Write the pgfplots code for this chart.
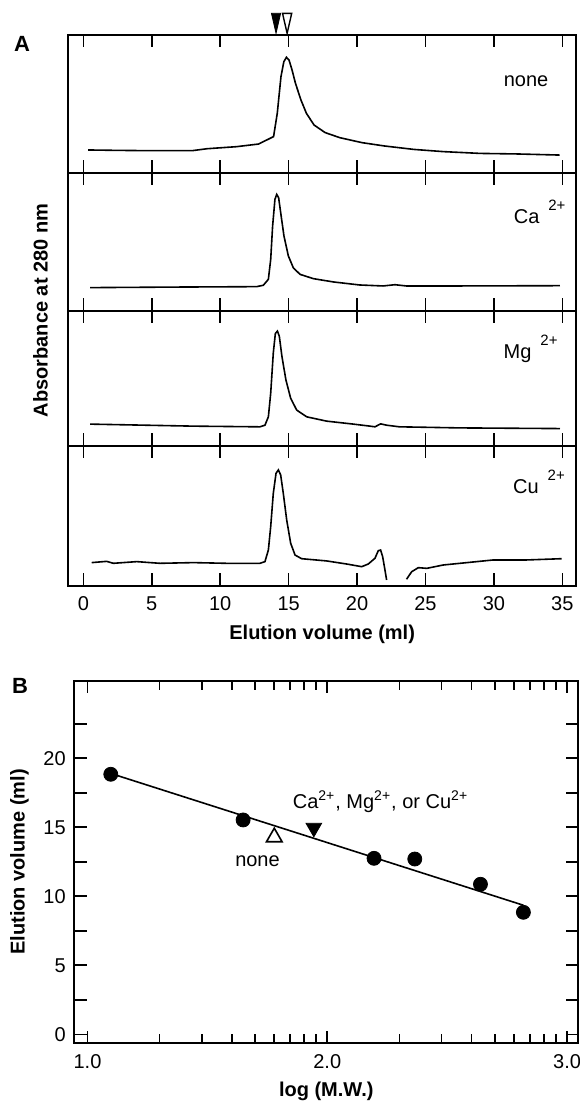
\documentclass[border=0pt]{standalone}
\usepackage{fontspec}
\setmainfont{Liberation Sans}
\usepackage{pgfplots}
\pgfplotsset{compat=1.18}

\pgfplotsset{
  base/.style={
    scale only axis, anchor=south west, clip=false,
    tick align=inside, major tick length=6.25pt, minor tick length=4.5pt,
    axis line style={line width=0.9pt},
    every tick/.style={black, line width=0.8pt},
    tick label style={font=\fontsize{10}{12}\selectfont},
    label style={font=\bfseries\fontsize{10}{12}\selectfont},
    /pgf/number format/assume math mode=true,
  },
  panelA/.style={
    base, width=253.85pt, xmin=-1.1, xmax=36.0, ymin=0, ymax=100,
    xtick={0,5,...,35}, ytick=\empty,
  },
  trace/.style={black, line width=0.8pt, no marks},
}
\tikzset{ion/.style={anchor=base west, font=\fontsize{10}{12}\selectfont}}
\newcommand{\ionsup}[1]{\hspace{4.5pt}\raisebox{6.3pt}{\fontsize{7.5}{8}\selectfont #1}}

\begin{document}
\begin{tikzpicture}
\useasboundingbox (0,0) rectangle (289.5pt,551.5pt);

% ---- panel A: none
\begin{axis}[panelA, at={(34.15pt,465.15pt)}, height=68.85pt, xticklabels={}]
\addplot[trace] coordinates {
 (0.35,16.5) (2.5,16.2) (4.72,16.0) (7.96,16.0) (9.04,17.4) (11.2,18.9) (12.8,20.8)
 (13.9,26.2) (14.17,43.1) (14.44,69.7) (14.65,80.6) (14.84,83.8) (15.03,81.8)
 (15.25,74.6) (15.5,64.9) (15.9,52.8) (16.3,43.1) (16.86,34.6) (17.67,29.1)
 (18.75,25.4) (20.37,21.8) (22.0,19.4) (24.15,16.9) (26.3,15.3) (29.0,14.0)
 (31.7,13.6) (34.8,12.8)
};
\addplot[only marks, mark=triangle*, mark size=3pt,
  mark options={xscale=0.885, yscale=-2.22, fill=black, draw=black}]
  coordinates {(14.08,110.9)};
\addplot[only marks, mark=triangle*, mark size=3pt,
  mark options={xscale=0.885, yscale=-2.22, fill=white, draw=black, line width=0.7pt}]
  coordinates {(14.89,110.9)};
\node[anchor=center, font=\fontsize{10}{12}\selectfont] at (axis cs:32.35,66.1) {none};
\end{axis}

% ---- panel A: Ca
\begin{axis}[panelA, at={(34.15pt,396pt)}, height=69.15pt, xticklabels={}]
\addplot[trace] coordinates {
 (0.49,16.9) (6.82,17.3) (12.66,17.6) (13.15,18.6) (13.52,22.9) (13.69,37.3)
 (13.83,61.4) (14.0,80.7) (14.13,84.3) (14.27,81.9) (14.42,71.1) (14.66,54.2)
 (14.98,39.8) (15.34,31.3) (15.83,26.5) (16.8,23.4) (18.27,21.0) (20.2,18.8)
 (21.9,18.1) (22.77,19.0) (23.6,18.1) (27.5,18.1) (34.83,18.3)
};
\node[ion] at (axis cs:30.94,63.4) {Ca\ionsup{2+}};
\end{axis}

% ---- panel A: Mg
\begin{axis}[panelA, at={(34.15pt,328.5pt)}, height=67.5pt, xticklabels={}]
\addplot[trace] coordinates {
 (0.49,16.2) (8.04,14.7) (12.9,14.2) (13.27,15.4) (13.52,21.6) (13.69,39.1)
 (13.88,68.9) (14.03,83.3) (14.18,85.1) (14.32,81.3) (14.51,66.4) (14.8,49.0)
 (15.15,35.3) (15.59,26.6) (16.32,21.6) (17.78,18.4) (19.73,16.2) (20.95,14.7)
 (21.31,14.2) (21.72,16.4) (22.16,15.4) (23.1,14.2) (27.5,13.4) (34.83,12.9)
};
\node[ion] at (axis cs:30.2,65.0) {Mg\ionsup{2+}};
\end{axis}

% ---- panel A: Cu
\begin{axis}[panelA, at={(34.15pt,258.5pt)}, height=70pt,
  xticklabel style={anchor=center, yshift=-8.65pt},
  xlabel={Elution volume (ml)},
  xlabel style={at={(axis description cs:0.5,-0.343)}, anchor=center}]
\addplot[trace] coordinates {
 (0.61,16.7) (1.7,17.6) (2.19,16.2) (3.9,17.4) (5.6,16.2) (8.04,16.7) (10.47,16.2)
 (12.9,16.2) (13.27,17.4) (13.52,25.7) (13.69,42.4) (13.88,66.2) (14.08,80.5)
 (14.25,82.9) (14.42,79.3) (14.61,66.2) (14.86,47.1) (15.15,30.5) (15.47,22.1)
 (15.95,19.5) (17.78,17.9) (19.24,15.7) (20.34,13.8) (20.82,15.7) (21.31,19.8)
 (21.55,25.2) (21.72,25.7) (21.87,21.0) (22.04,11.4) (22.16,4.3)
};
\addplot[trace] coordinates {
 (23.62,4.8) (23.99,10.2) (24.48,13.1) (25.09,12.6) (26.3,15.0) (28.74,17.4)
 (29.96,18.6) (32.4,18.6) (34.95,19.5)
};
\node[ion] at (axis cs:30.89,66.2) {Cu\ionsup{2+}};
\end{axis}

\node[rotate=90, font=\bfseries\fontsize{10}{12}\selectfont] at (20.25pt,396.25pt) {Absorbance at 280 nm};
\node[font=\bfseries\fontsize{11}{13}\selectfont] at (11pt,529.65pt) {A};
\node[font=\bfseries\fontsize{11}{13}\selectfont] at (10pt,208.5pt) {B};

% ---- panel B: calibration
\begin{axis}[base, at={(37.1pt,29.85pt)}, width=252.05pt, height=181.3pt,
  xmin=0.9445, xmax=3.047, ymin=-0.652, ymax=25.62,
  xtick={1,2,3}, xticklabels={1.0,2.0,3.0},
  minor xtick={1.30103,1.47712,1.60206,1.69897,1.77815,1.84510,1.90309,1.95424,
               2.30103,2.47712,2.60206,2.69897,2.77815,2.84510,2.90309,2.95424},
  ytick={0,2.5,...,22.5}, yticklabels={0,,5,,10,,15,,20,},
  xticklabel style={anchor=center, yshift=-9.2pt},
  yticklabel style={xshift=-0.7pt},
  xlabel={log (M.W.)}, ylabel={Elution volume (ml)},
  xlabel style={at={(axis description cs:0.5,-0.1335)}, anchor=center},
  ylabel style={at={(axis description cs:-0.1085,0.5)}, anchor=center}]
\addplot[black, line width=0.8pt, no marks] coordinates {(1.097,18.9) (2.818,9.35)};
\addplot[only marks, mark=*, mark size=3.5pt, black] coordinates {
 (1.097,18.84) (1.649,15.53) (2.195,12.75) (2.365,12.70) (2.639,10.87) (2.818,8.84)
};
\addplot[only marks, mark=triangle*, mark size=4.5pt,
  mark options={fill=white, draw=black, line width=0.8pt}] coordinates {(1.779,14.28)};
\addplot[only marks, mark=triangle*, mark size=4.5pt,
  mark options={yscale=-1, fill=black, draw=black}] coordinates {(1.944,14.96)};
\node[anchor=base, font=\fontsize{10}{12}\selectfont] at (axis cs:2.222,16.38)
  {Ca\textsuperscript{2+}, Mg\textsuperscript{2+}, or Cu\textsuperscript{2+}};
\node[anchor=base, font=\fontsize{10}{12}\selectfont] at (axis cs:1.709,12.14) {none};
\end{axis}
\end{tikzpicture}
\end{document}
